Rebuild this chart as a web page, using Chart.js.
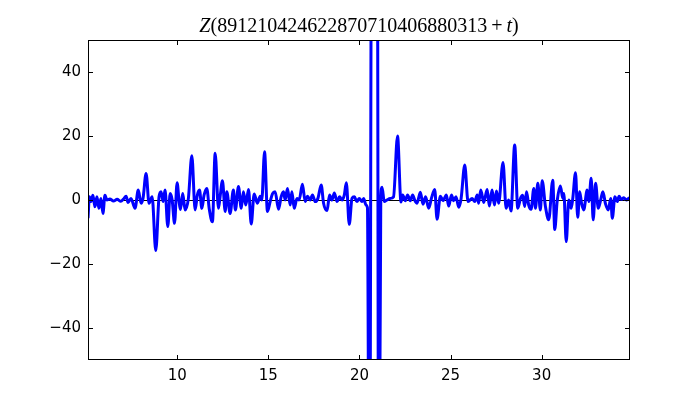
<!DOCTYPE html>
<html>
<head>
<meta charset="utf-8">
<script src="https://cdn.jsdelivr.net/npm/chart.js@4/dist/chart.umd.min.js"></script>
<style>
html,body{margin:0;padding:0;background:#fff;}
canvas{display:block;}
</style>
</head>
<body>
<canvas id="c" width="700" height="400"></canvas>
<script>
const titleParts = [
  {text: 'Z', italic: true},
  {text: '(891210424622870710406880313', italic: false},
  {text: '\u2009+\u2009', italic: false},
  {text: 't', italic: true},
  {text: ')', italic: false}
];
const xTicks = [10, 15, 20, 25, 30];
const yTicks = [-40, -20, 0, 20, 40];
const xRange = [5.1, 34.85];
const yRange = [-50, 50];

const tVals = [
5.10,5.18,5.26,5.37,5.48,5.59,5.70,5.81,5.92,6.03,6.14,6.30,6.50,6.70,6.90,7.05,7.19,7.30,7.46,7.68,
7.86,8.01,8.12,8.29,8.45,8.62,8.82,9.00,9.11,9.22,9.33,9.48,9.61,9.72,9.85,9.99,10.10,10.17,10.30,10.43,
10.61,10.80,10.98,11.10,11.22,11.35,11.47,11.62,11.76,11.93,12.08,12.26,12.35,12.48,12.63,12.72,12.90,13.08,13.19,13.36,
13.51,13.63,13.76,13.91,14.06,14.22,14.40,14.55,14.64,14.79,14.95,15.10,15.23,15.37,15.56,15.70,15.83,15.92,16.05,16.20,
16.29,16.42,16.57,16.69,16.87,17.02,17.15,17.30,17.42,17.57,17.72,17.90,18.03,18.22,18.36,18.49,18.62,18.77,18.91,19.04,
19.17,19.28,19.44,19.59,19.72,19.86,19.99,20.14,20.23,20.36,20.44,20.51,20.58,20.65,20.99,21.04,21.11,21.17,21.24,21.36,
21.51,21.69,21.87,22.09,22.28,22.37,22.52,22.64,22.79,22.92,23.03,23.16,23.34,23.49,23.63,23.80,23.95,24.13,24.26,24.44,
24.59,24.77,24.90,25.05,25.17,25.30,25.45,25.58,25.78,25.96,26.18,26.33,26.46,26.54,26.66,26.82,27.01,27.13,27.28,27.41,
27.52,27.64,27.88,28.05,28.19,28.32,28.52,28.69,28.84,28.96,29.07,29.17,29.29,29.42,29.57,29.66,29.79,29.93,30.03,30.21,
30.39,30.61,30.72,30.85,31.03,31.16,31.22,31.35,31.49,31.62,31.71,31.86,31.98,32.09,32.19,32.31,32.50,32.59,32.72,32.83,
32.96,33.11,33.24,33.36,33.51,33.66,33.79,33.88,34.02,34.15,34.25,34.37,34.51,34.65,34.83,34.85
];
const zVals = [
-5.7,1.0,-0.5,1.5,-2.1,1.0,-2.6,0.5,-4.2,1.5,0.0,0.3,-0.3,0.2,-0.4,0.3,1.2,-0.8,0.5,-2.6,
3.1,-1.0,0.5,8.3,-1.0,1.0,-15.8,1.0,2.6,-0.5,3.1,-8.3,2.0,0.0,-7.3,5.4,-0.5,-3.0,2.0,-3.1,
0.5,13.8,-3.1,1.5,3.1,-2.6,1.5,3.6,-3.0,-6.8,14.6,-2.6,1.0,6.0,-3.6,2.6,-4.2,3.1,-3.1,4.2,
-2.6,2.6,-1.6,3.3,-7.5,1.9,-1.0,1.2,0.0,15.1,-3.6,-0.5,2.0,2.6,-2.9,1.0,2.6,0.0,3.6,-1.6,
2.6,-2.6,0.5,0.0,4.9,-0.5,1.2,0.0,1.6,-0.5,0.5,4.7,-1.0,-3.3,1.6,0.0,2.2,-0.5,1.0,0.0,
1.6,5.4,-7.6,0.5,1.0,-0.5,0.5,-0.5,0.5,-1.6,-2.5,-70,-70,70,70,-70,-70,0.0,4.0,-0.5,
0.0,0.5,1.0,20.0,-0.6,1.6,-0.2,1.6,-0.2,1.6,0.0,-1.0,2.4,-1.3,1.0,-2.6,0.5,3.3,-6.0,1.2,
-0.2,1.6,-1.9,1.6,-0.2,1.0,-2.3,0.5,10.9,-0.5,0.5,-0.5,1.6,-1.0,3.1,-0.8,3.3,-1.9,3.1,-1.6,
2.8,-1.0,11.7,-2.6,0.0,-3.4,17.2,-2.6,0.5,1.5,-2.0,2.6,-1.6,-2.9,3.6,-2.6,5.2,-3.1,6.0,-2.1,
-6.2,6.2,-9.2,-0.5,4.4,0.5,2.0,-13.0,0.0,-2.6,0.5,8.5,-5.4,2.6,-1.0,-3.1,3.1,-0.5,6.8,-6.2,
5.2,-2.6,0.0,2.6,-1.3,-3.1,0.5,-5.7,1.0,-0.5,1.2,0.2,0.7,0.0,0.7,0.6
];

const points = tVals.map((t, i) => ({x: t, y: zVals[i]}));

const TICK_LEN = 5;
const framePlugin = {
  id: 'frame',
  beforeDatasetsDraw(chart) {
    const {ctx, chartArea: a, scales: {y}} = chart;
    const y0 = Math.round(y.getPixelForValue(0)) + 0.5;
    ctx.save();
    ctx.strokeStyle = '#000';
    ctx.lineWidth = 1;
    ctx.beginPath();
    ctx.moveTo(a.left, y0);
    ctx.lineTo(a.right, y0);
    ctx.stroke();
    ctx.restore();
  },
  afterDatasetsDraw(chart) {
    const {ctx, chartArea: a, scales: {x, y}} = chart;
    ctx.save();
    ctx.strokeStyle = '#000';
    ctx.lineWidth = 1;
    ctx.strokeRect(a.left + 0.5, a.top + 0.5, a.right - a.left - 1, a.bottom - a.top - 1);
    ctx.beginPath();
    xTicks.forEach(v => {
      const px = Math.round(x.getPixelForValue(v)) + 0.5;
      ctx.moveTo(px, a.bottom); ctx.lineTo(px, a.bottom - TICK_LEN);
      ctx.moveTo(px, a.top); ctx.lineTo(px, a.top + TICK_LEN);
    });
    yTicks.forEach(v => {
      const py = Math.round(y.getPixelForValue(v)) + 0.5;
      ctx.moveTo(a.left, py); ctx.lineTo(a.left + TICK_LEN, py);
      ctx.moveTo(a.right, py); ctx.lineTo(a.right - TICK_LEN, py);
    });
    ctx.stroke();
    ctx.restore();
  },
  afterDraw(chart) {
    const {ctx, chartArea: a} = chart;
    const size = 20;
    const fam = '"Liberation Serif", "DejaVu Serif", serif';
    ctx.save();
    ctx.fillStyle = '#000';
    ctx.textBaseline = 'alphabetic';
    ctx.textAlign = 'left';
    let total = 0;
    const widths = titleParts.map(p => {
      ctx.font = (p.italic ? 'italic ' : '') + size + 'px ' + fam;
      const w = ctx.measureText(p.text).width;
      total += w;
      return w;
    });
    let cx = (a.left + a.right) / 2 - total / 2;
    titleParts.forEach((p, i) => {
      ctx.font = (p.italic ? 'italic ' : '') + size + 'px ' + fam;
      ctx.fillText(p.text, cx, 32);
      cx += widths[i];
    });
    ctx.restore();
  }
};

const fmt = v => (v < 0 ? '\u2212' + Math.abs(v) : String(v));
const tickFont = {family: '"DejaVu Sans", sans-serif', size: 15};

new Chart(document.getElementById('c'), {
  type: 'line',
  data: {
    datasets: [{
      data: points,
      borderColor: '#0000ff',
      borderWidth: 3,
      pointRadius: 0,
      fill: false,
      cubicInterpolationMode: 'monotone',
      clip: 0
    }]
  },
  options: {
    responsive: false,
    animation: false,
    events: [],
    layout: {padding: {left: 0, right: 70, top: 40, bottom: 0}},
    plugins: {legend: {display: false}, title: {display: false}, tooltip: {enabled: false}},
    scales: {
      x: {
        type: 'linear',
        min: xRange[0], max: xRange[1],
        grid: {display: false, drawTicks: false},
        border: {display: false},
        afterBuildTicks: s => { s.ticks = xTicks.map(v => ({value: v})); },
        afterFit: s => { s.height = 40; },
        ticks: {color: '#000', font: tickFont, padding: 7, maxRotation: 0, callback: fmt}
      },
      y: {
        type: 'linear',
        min: yRange[0], max: yRange[1],
        grid: {display: false, drawTicks: false},
        border: {display: false},
        afterBuildTicks: s => { s.ticks = yTicks.map(v => ({value: v})); },
        afterFit: s => { s.width = 88; },
        ticks: {color: '#000', font: tickFont, padding: 7, callback: fmt}
      }
    }
  },
  plugins: [framePlugin]
});
</script>
</body>
</html>
